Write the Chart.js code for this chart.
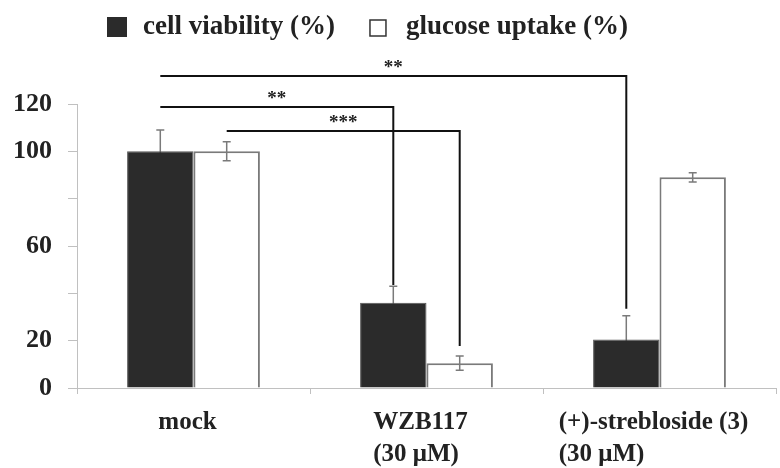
<!DOCTYPE html>
<html>
<head>
<meta charset="utf-8">
<script src="https://cdn.jsdelivr.net/npm/chart.js@4.4.1/dist/chart.umd.min.js"></script>
<style>
  html, body { margin: 0; padding: 0; background: #ffffff; }
  #wrap { width: 780px; height: 468px; position: relative; }
</style>
</head>
<body>
<div id="wrap"><canvas id="c" width="780" height="468"></canvas></div>
<script>
// ---- data ----
const categories = [['mock'], ['WZB117', '(30 μM)'], ['(+)-strebloside (3)', '(30 μM)']];
const seriesNames = ['cell viability (%)', 'glucose uptake (%)'];
const cellViability = [100, 36, 20.5];
const cellViabilityErr = [9, 7, 10];
const glucoseUptake = [100, 10.5, 89];
const glucoseUptakeErr = [4, 3, 2];
const yTickValues = [0, 20, 60, 100, 120];
// significance brackets: [category, series] endpoints, bracket level, drop end (data units)
const sigLabels = ['**', '**', '***'];
const sigFrom = [[0, 0], [0, 0], [0, 1]];
const sigTo = [[2, 0], [1, 0], [1, 1]];
const sigLevel = [131.8, 118.7, 108.6];
const sigEnd = [33.5, 43.5, 17.7];

const SERIF = '"Liberation Serif", "Times New Roman", serif';
const TEXT = '#222222';

function drawErrors(chart, ds, vals, errs) {
  const meta = chart.getDatasetMeta(ds);
  const y = chart.scales.y;
  const ctx = chart.ctx;
  ctx.save();
  ctx.strokeStyle = '#7a7a7a';
  ctx.lineWidth = 1.5;
  meta.data.forEach((bar, i) => {
    const x = bar.x;
    const yt = y.getPixelForValue(vals[i] + errs[i]);
    const yb = y.getPixelForValue(vals[i] - errs[i]);
    ctx.beginPath();
    ctx.moveTo(x, yt); ctx.lineTo(x, yb);
    ctx.moveTo(x - 4, yt); ctx.lineTo(x + 4, yt);
    ctx.moveTo(x - 4, yb); ctx.lineTo(x + 4, yb);
    ctx.stroke();
  });
  ctx.restore();
}

const annot = {
  id: 'annot',
  beforeDatasetsDraw(chart) {
    drawErrors(chart, 0, cellViability, cellViabilityErr);
  },
  afterDatasetsDraw(chart) {
    drawErrors(chart, 1, glucoseUptake, glucoseUptakeErr);
  },
  afterDraw(chart) {
    const ctx = chart.ctx;
    const xs = chart.scales.x;
    const ys = chart.scales.y;
    ctx.save();
    // x category labels (multi-line, left aligned block centered on category)
    ctx.font = 'bold 25px ' + SERIF;
    ctx.fillStyle = TEXT;
    ctx.textAlign = 'left';
    ctx.textBaseline = 'alphabetic';
    categories.forEach((lines, i) => {
      const w = Math.max(...lines.map(l => ctx.measureText(l).width));
      const left = xs.getPixelForValue(i) - w / 2 - 6;
      lines.forEach((l, k) => ctx.fillText(l, left, xs.top + 41 + k * 32));
    });
    // legend
    const ds = chart.data.datasets;
    ctx.font = 'bold 27px ' + SERIF;
    ctx.textBaseline = 'middle';
    let lx = chart.chartArea.left + 30;
    const ly = 27;
    // item 1: filled box
    ctx.fillStyle = ds[0].backgroundColor;
    ctx.fillRect(lx, ly - 10, 20, 20);
    ctx.fillStyle = TEXT;
    ctx.fillText(seriesNames[0], lx + 36, ly);
    lx += 36 + ctx.measureText(seriesNames[0]).width + 35;
    // item 2: open box
    ctx.fillStyle = '#ffffff';
    ctx.strokeStyle = '#333333';
    ctx.lineWidth = 1.5;
    ctx.fillRect(lx, ly - 7, 16, 16);
    ctx.strokeRect(lx, ly - 7, 16, 16);
    ctx.fillStyle = TEXT;
    ctx.fillText(seriesNames[1], lx + 36, ly);
    // significance brackets
    ctx.strokeStyle = '#111111';
    ctx.lineWidth = 2;
    ctx.font = 'bold 19px ' + SERIF;
    ctx.textAlign = 'center';
    ctx.textBaseline = 'alphabetic';
    sigLabels.forEach((lab, i) => {
      const x1 = chart.getDatasetMeta(sigFrom[i][1]).data[sigFrom[i][0]].x;
      const x2 = chart.getDatasetMeta(sigTo[i][1]).data[sigTo[i][0]].x;
      const yl = ys.getPixelForValue(sigLevel[i]);
      const ye = ys.getPixelForValue(sigEnd[i]);
      ctx.beginPath();
      ctx.moveTo(x1, yl);
      ctx.lineTo(x2, yl);
      ctx.lineTo(x2, ye);
      ctx.stroke();
      ctx.fillStyle = TEXT;
      ctx.fillText(lab, (x1 + x2) / 2, yl - 3);
    });
    ctx.restore();
  }
};

new Chart(document.getElementById('c'), {
  type: 'bar',
  data: {
    labels: categories,
    datasets: [
      {
        label: seriesNames[0],
        data: cellViability,
        backgroundColor: '#2b2b2b',
        borderColor: '#555555',
        borderWidth: 1
      },
      {
        label: seriesNames[1],
        data: glucoseUptake,
        backgroundColor: '#ffffff',
        borderColor: '#7a7a7a',
        borderWidth: 2
      }
    ]
  },
  options: {
    responsive: false,
    animation: false,
    devicePixelRatio: 1,
    categoryPercentage: 0.57,
    barPercentage: 1,
    layout: { padding: { top: 104, right: 4, left: 0, bottom: 0 } },
    plugins: {
      legend: { display: false },
      tooltip: { enabled: false }
    },
    scales: {
      x: {
        ticks: { display: false },
        grid: { display: true, drawOnChartArea: false, drawTicks: true, tickLength: 6, color: '#c0c0c0', offset: true },
        border: { color: '#c0c0c0', width: 1 },
        afterFit(scale) { scale.height = 80; }
      },
      y: {
        min: 0,
        max: 120,
        ticks: {
          stepSize: 20,
          padding: 16,
          color: TEXT,
          font: { family: SERIF, size: 26, weight: 'bold' },
          callback: (v) => (yTickValues.includes(v) ? String(v) : '')
        },
        grid: { display: true, drawOnChartArea: false, drawTicks: true, tickLength: 9, color: '#c0c0c0' },
        border: { color: '#c0c0c0', width: 1 },
        afterFit(scale) { scale.width = 77; }
      }
    }
  },
  plugins: [annot]
});
</script>
</body>
</html>
